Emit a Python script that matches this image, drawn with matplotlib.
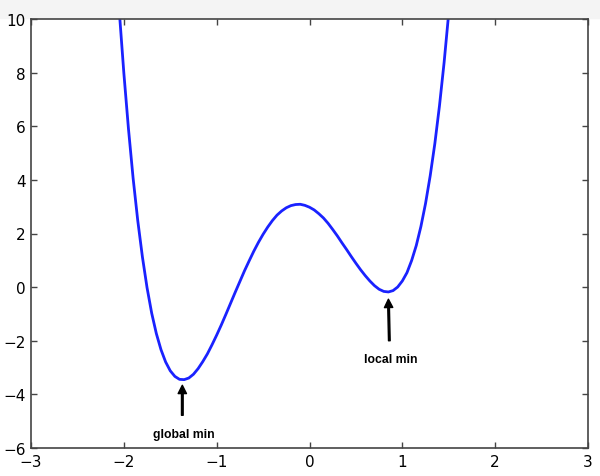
import matplotlib
matplotlib.use('Agg')
import matplotlib.pyplot as plt
from matplotlib.patches import Rectangle

# valores
x_vals = [-2.10, -2.05, -2.00, -1.95, -1.90, -1.85, -1.80, -1.75, -1.70, -1.65,
          -1.60, -1.55, -1.50, -1.45, -1.40, -1.35, -1.30, -1.25, -1.20, -1.15,
          -1.10, -1.05, -1.00, -0.95, -0.90, -0.85, -0.80, -0.75, -0.70, -0.65,
          -0.60, -0.55, -0.50, -0.45, -0.40, -0.35, -0.30, -0.25, -0.20, -0.15,
          -0.10, -0.05, 0.00, 0.05, 0.10, 0.15, 0.20, 0.25, 0.30, 0.35,
          0.40, 0.45, 0.50, 0.55, 0.60, 0.65, 0.70, 0.75, 0.80, 0.85,
          0.90, 0.95, 1.00, 1.05, 1.10, 1.15, 1.20, 1.25, 1.30, 1.35,
          1.40, 1.45, 1.50, 1.55]
y_vals = [12.92, 10.34, 7.99, 5.90, 4.06, 2.48, 1.13, -0.02, -0.97, -1.73,
          -2.33, -2.79, -3.12, -3.33, -3.44, -3.45, -3.39, -3.25, -3.04, -2.78,
          -2.49, -2.15, -1.79, -1.41, -1.01, -0.60, -0.19, 0.21, 0.61, 0.98,
          1.34, 1.67, 1.97, 2.24, 2.48, 2.685, 2.84, 2.96, 3.04, 3.08,
          3.09, 3.05, 2.98, 2.88, 2.74, 2.58, 2.38, 2.15, 1.91, 1.65,
          1.40, 1.14, 0.89, 0.65, 0.43, 0.23, 0.055, -0.08, -0.16, -0.18,
          -0.13, 0.005, 0.23, 0.54, 0.99, 1.55, 2.26, 3.12, 4.15, 5.35,
          6.76, 8.38, 10.23, 12.33]

x_ticks = [-3, -2, -1, 0, 1, 2, 3]
y_ticks = [-6, -4, -2, 0, 2, 4, 6, 8, 10]

fig = plt.figure(figsize=(6, 4.77), dpi=100)
fig.patches.append(Rectangle((0, 1 - 19 / 477), 1, 19 / 477, transform=fig.transFigure,
                             color='#f4f4f4', zorder=-1))
ax = fig.add_axes([31 / 600, 1 - 449 / 477, 557 / 600, 429 / 477])

ax.plot(x_vals, y_vals, color='#1a22ff', linewidth=2.0)

ax.set_xlim(-3, 3)
ax.set_ylim(-6, 10)
ax.set_xticks(x_ticks)
ax.set_yticks(y_ticks)
ax.tick_params(direction='in', top=True, right=True, length=4, width=1,
               labelsize=11, pad=4, color='#444444')
for s in ax.spines.values():
    s.set_color('#444444')
    s.set_linewidth(1.2)

# anotaciones
flecha = dict(facecolor='black', edgecolor='black', width=1.2, headwidth=6,
              headlength=6, shrink=0.0)
ax.annotate('', xy=(-1.37, -3.66), xytext=(-1.37, -4.78), arrowprops=flecha)
ax.text(-1.35, -5.49, 'global min', ha='center', va='center', fontsize=8.8,
        fontweight='bold', family='Liberation Sans')
ax.annotate('', xy=(0.85, -0.45), xytext=(0.86, -2.0), arrowprops=flecha)
ax.text(0.87, -2.69, 'local min', ha='center', va='center', fontsize=8.8,
        fontweight='bold', family='Liberation Sans')

plt.savefig('out.png', dpi=100)
